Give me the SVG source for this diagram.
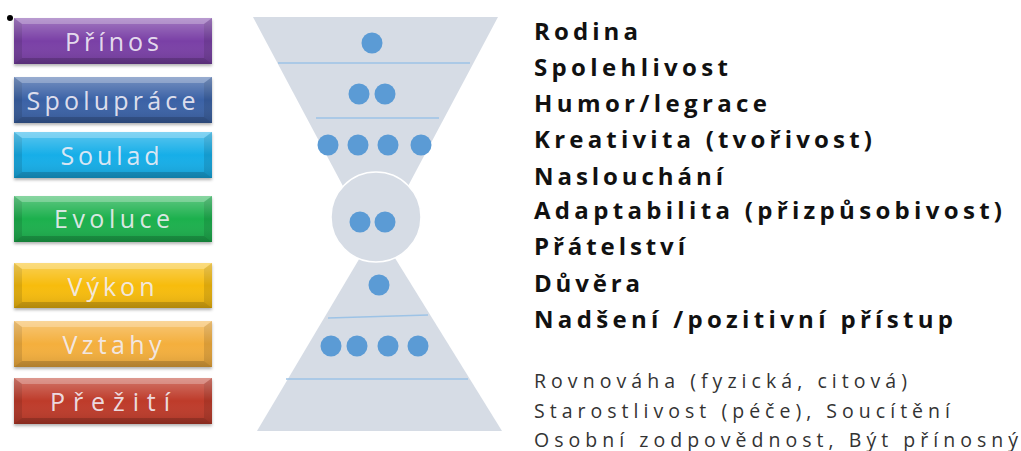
<svg xmlns="http://www.w3.org/2000/svg" width="1021" height="451" viewBox="0 0 1021 451">
<defs>
<style>
.btxt{font-family:"Open Sans","Liberation Sans",Arial,sans-serif;font-size:25px;fill:#F2EEF6;fill-opacity:0.9;text-anchor:middle;}
.big{font-family:"Open Sans","Liberation Sans",Arial,sans-serif;font-weight:bold;font-size:24px;fill:#111;}
.small{font-family:"Open Sans","Liberation Sans",Arial,sans-serif;font-size:19.5px;fill:#333;}
.dot{fill:#5B9BD5;}
.sep{stroke:#9DC3E6;stroke-width:1.5;fill:none;}
.funnel{fill:#D6DCE5;}
.hl{fill:#fff;fill-opacity:0.25;}
.sh{fill:#000;fill-opacity:0.18;}
</style>
<linearGradient id="gloss" x1="0" y1="0" x2="0" y2="1">
<stop offset="0" stop-color="#fff" stop-opacity="0.3"/>
<stop offset="0.5" stop-color="#fff" stop-opacity="0"/>
<stop offset="1" stop-color="#000" stop-opacity="0.12"/>
</linearGradient>
<filter id="ds" x="-5%" y="-10%" width="110%" height="130%">
<feDropShadow dx="0" dy="2" stdDeviation="1.5" flood-color="#000" flood-opacity="0.3"/>
</filter>
</defs>
<rect width="1021" height="451" fill="#fff"/>
<circle cx="10" cy="18" r="3" fill="#000"/>

<g id="btn-prinos">
<rect x="14" y="18" width="198" height="46" fill="#7A3FA6" filter="url(#ds)"/>
<polygon points="14,18 212,18 204,24 22,24" class="hl"/>
<polygon points="14,64 212,64 204,58 22,58" class="sh"/>
<polygon points="14,18 22,24 22,58 14,64" class="sh" opacity="0.6"/>
<polygon points="212,18 204,24 204,58 212,64" class="sh" opacity="0.6"/>
<rect x="14" y="18" width="198" height="46" fill="url(#gloss)"/>
<text x="112" y="51" class="btxt" textLength="94" lengthAdjust="spacing">Přínos</text>
</g>
<g id="btn-spoluprace">
<rect x="14" y="77" width="198" height="46" fill="#3B62A6" filter="url(#ds)"/>
<polygon points="14,77 212,77 204,83 22,83" class="hl"/>
<polygon points="14,123 212,123 204,117 22,117" class="sh"/>
<polygon points="14,77 22,83 22,117 14,123" class="sh" opacity="0.6"/>
<polygon points="212,77 204,83 204,117 212,123" class="sh" opacity="0.6"/>
<rect x="14" y="77" width="198" height="46" fill="url(#gloss)"/>
<text x="111" y="110" class="btxt" textLength="169" lengthAdjust="spacing">Spolupráce</text>
</g>
<g id="btn-soulad">
<rect x="14" y="132" width="198" height="46" fill="#14AEE8" filter="url(#ds)"/>
<polygon points="14,132 212,132 204,138 22,138" class="hl"/>
<polygon points="14,178 212,178 204,172 22,172" class="sh"/>
<polygon points="14,132 22,138 22,172 14,178" class="sh" opacity="0.6"/>
<polygon points="212,132 204,138 204,172 212,178" class="sh" opacity="0.6"/>
<rect x="14" y="132" width="198" height="46" fill="url(#gloss)"/>
<text x="110" y="165" class="btxt" textLength="99" lengthAdjust="spacing">Soulad</text>
</g>
<g id="btn-evoluce">
<rect x="14" y="196" width="198" height="46" fill="#1BB04E" filter="url(#ds)"/>
<polygon points="14,196 212,196 204,202 22,202" class="hl"/>
<polygon points="14,242 212,242 204,236 22,236" class="sh"/>
<polygon points="14,196 22,202 22,236 14,242" class="sh" opacity="0.6"/>
<polygon points="212,196 204,202 204,236 212,242" class="sh" opacity="0.6"/>
<rect x="14" y="196" width="198" height="46" fill="url(#gloss)"/>
<text x="112" y="228" class="btxt" textLength="116" lengthAdjust="spacing">Evoluce</text>
</g>
<g id="btn-vykon">
<rect x="14" y="263" width="198" height="45" fill="#F7BC0C" filter="url(#ds)"/>
<polygon points="14,263 212,263 204,269 22,269" class="hl"/>
<polygon points="14,308 212,308 204,302 22,302" class="sh"/>
<polygon points="14,263 22,269 22,302 14,308" class="sh" opacity="0.6"/>
<polygon points="212,263 204,269 204,302 212,308" class="sh" opacity="0.6"/>
<rect x="14" y="263" width="198" height="45" fill="url(#gloss)"/>
<text x="111" y="296" class="btxt" textLength="87" lengthAdjust="spacing">Výkon</text>
</g>
<g id="btn-vztahy">
<rect x="14" y="321" width="198" height="46" fill="#F4AF3E" filter="url(#ds)"/>
<polygon points="14,321 212,321 204,327 22,327" class="hl"/>
<polygon points="14,367 212,367 204,361 22,361" class="sh"/>
<polygon points="14,321 22,327 22,361 14,367" class="sh" opacity="0.6"/>
<polygon points="212,321 204,327 204,361 212,367" class="sh" opacity="0.6"/>
<rect x="14" y="321" width="198" height="46" fill="url(#gloss)"/>
<text x="112" y="354" class="btxt" textLength="99" lengthAdjust="spacing">Vztahy</text>
</g>
<g id="btn-preziti">
<rect x="14" y="378" width="198" height="46" fill="#BE3A2B" filter="url(#ds)"/>
<polygon points="14,378 212,378 204,384 22,384" class="hl"/>
<polygon points="14,424 212,424 204,418 22,418" class="sh"/>
<polygon points="14,378 22,384 22,418 14,424" class="sh" opacity="0.6"/>
<polygon points="212,378 204,384 204,418 212,424" class="sh" opacity="0.6"/>
<rect x="14" y="378" width="198" height="46" fill="url(#gloss)"/>
<text x="110" y="411" class="btxt" textLength="120" lengthAdjust="spacing">Přežití</text>
</g>

<g id="funnel-top">
<polygon points="253,17 498,17 407,188 344,188" class="funnel"/>
<line x1="278" y1="63" x2="470" y2="63" class="sep"/>
<line x1="316" y1="118" x2="439" y2="118" class="sep"/>
<circle cx="372" cy="43" r="10.5" class="dot"/>
<circle cx="359" cy="94" r="10.5" class="dot"/>
<circle cx="385" cy="94" r="10.5" class="dot"/>
<circle cx="328" cy="145" r="10.5" class="dot"/>
<circle cx="358" cy="145" r="10.5" class="dot"/>
<circle cx="388" cy="145" r="10.5" class="dot"/>
<circle cx="421" cy="145" r="10.5" class="dot"/>
</g>
<g id="pyramid-bottom">
<polygon points="377,229 502,431 257,431" class="funnel"/>
<line x1="328" y1="318" x2="428" y2="315" class="sep"/>
<line x1="286" y1="379" x2="468" y2="379" class="sep"/>
<circle cx="379" cy="285" r="10.5" class="dot"/>
<circle cx="331" cy="346" r="10.5" class="dot"/>
<circle cx="357" cy="346" r="10.5" class="dot"/>
<circle cx="388" cy="346" r="10.5" class="dot"/>
<circle cx="418" cy="346" r="10.5" class="dot"/>
</g>
<g id="circle-middle">
<circle cx="376" cy="217" r="45" class="funnel" stroke="#fff" stroke-width="1.5"/>
<circle cx="360" cy="222" r="10.5" class="dot"/>
<circle cx="385" cy="222" r="10.5" class="dot"/>
</g>

<g id="values">
<text x="534" y="40" class="big" textLength="104" lengthAdjust="spacing">Rodina</text>
<text x="534" y="76" class="big" textLength="194" lengthAdjust="spacing">Spolehlivost</text>
<text x="534" y="112" class="big" textLength="233" lengthAdjust="spacing">Humor/legrace</text>
<text x="534" y="148" class="big" textLength="338" lengthAdjust="spacing">Kreativita (tvořivost)</text>
<text x="534" y="185" class="big" textLength="189" lengthAdjust="spacing">Naslouchání</text>
<text x="534" y="219" class="big" textLength="468" lengthAdjust="spacing">Adaptabilita (přizpůsobivost)</text>
<text x="534" y="255" class="big" textLength="151" lengthAdjust="spacing">Přátelství</text>
<text x="534" y="292" class="big" textLength="106" lengthAdjust="spacing">Důvěra</text>
<text x="534" y="328" class="big" textLength="419" lengthAdjust="spacing">Nadšení /pozitivní přístup</text>
<text x="534" y="388" class="small" textLength="373" lengthAdjust="spacing">Rovnováha (fyzická, citová)</text>
<text x="534" y="418" class="small" textLength="416" lengthAdjust="spacing">Starostlivost (péče), Soucítění</text>
<text x="534" y="447" class="small" textLength="484" lengthAdjust="spacing">Osobní zodpovědnost, Být přínosný</text>
</g>
</svg>
